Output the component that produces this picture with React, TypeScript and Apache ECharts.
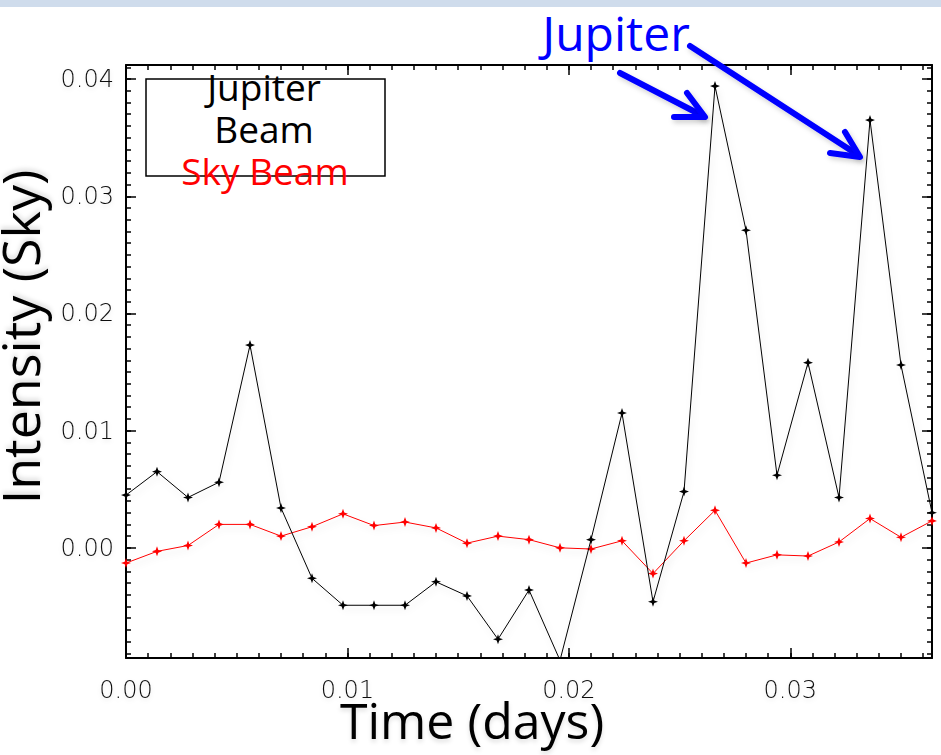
import React, { useEffect, useRef } from "react";
import * as echarts from "echarts";

// Sample times (days) and beam intensities
const times = [
  0.0, 0.0014, 0.0028, 0.0042, 0.0056, 0.007, 0.0084, 0.0098, 0.0112, 0.0126,
  0.014, 0.0154, 0.0168, 0.0182, 0.0196, 0.021, 0.0224, 0.0238, 0.0252, 0.0266,
  0.028, 0.0294, 0.0308, 0.0322, 0.0336, 0.035, 0.0364,
];

const jupiterBeam = [
  0.0045, 0.0065, 0.0043, 0.0056, 0.0173, 0.0034, -0.0026, -0.0049, -0.0049,
  -0.0049, -0.0029, -0.0041, -0.0078, -0.0036, -0.0096, 0.0007, 0.0115, -0.0046,
  0.0048, 0.0394, 0.0271, 0.0062, 0.0158, 0.0043, 0.0365, 0.0156, 0.003,
];

const skyBeam = [
  -0.0013, -0.0003, 0.0002, 0.002, 0.002, 0.001, 0.0018, 0.0029, 0.0019, 0.0022,
  0.0017, 0.0004, 0.001, 0.0007, 0.0, -0.0001, 0.0006, -0.0022, 0.0006, 0.0032,
  -0.0013, -0.0006, -0.0007, 0.0005, 0.0025, 0.0009, 0.0023,
];

const X_RANGE = [0, 0.0364];
const Y_RANGE = [-0.0094, 0.0412];
const MAJOR_X = 0.01;
const MINOR_X = 0.001;
const MAJOR_Y = 0.01;
const MINOR_Y = 0.001;

const LABEL_FONT = "'DejaVu Sans', sans-serif";
const TITLE_FONT = "'Open Sans', sans-serif";

const STAR = "path://M0,-10 L2.6,-2.6 L10,0 L2.6,2.6 L0,10 L-2.6,2.6 L-10,0 L-2.6,-2.6 Z";

const pair = (ys: number[]) => times.map((t, i) => [t, ys[i]]);

function axis(dim: "x" | "y", position: string, step: number, major: boolean, labels: boolean) {
  const range = dim === "x" ? X_RANGE : Y_RANGE;
  return {
    type: "value",
    position,
    min: range[0],
    max: range[1],
    minInterval: step,
    maxInterval: step,
    splitNumber: major ? 4 : 40,
    scale: true,
    splitLine: { show: false },
    axisLine: { show: major, onZero: false, lineStyle: { color: "#000", width: 2 } },
    axisTick: {
      show: true,
      inside: true,
      length: major ? 10 : 5,
      lineStyle: { color: "#000", width: 1.5 },
    },
    axisLabel: labels
      ? {
          show: true,
          fontFamily: LABEL_FONT,
          fontWeight: 200,
          fontSize: 24,
          color: "#111",
          margin: dim === "x" ? 20 : 12,
          showMinLabel: dim === "x",
          showMaxLabel: false,
          textShadowColor: "rgba(0,0,0,0.1)",
          textShadowBlur: 4,
          textShadowOffsetY: 2,
          formatter: (v: number) => v.toFixed(2),
        }
      : { show: false },
  };
}

function arrow(shaft: number[][], head: number[][]) {
  const style = {
    stroke: "#0000ff",
    lineWidth: 6,
    lineCap: "round",
    lineJoin: "round",
    fill: null,
    shadowBlur: 5,
    shadowColor: "rgba(0,0,0,0.18)",
    shadowOffsetX: 2,
    shadowOffsetY: 3,
  };
  return [
    { type: "polyline", shape: { points: shaft }, style, z: 100 },
    { type: "polyline", shape: { points: head }, style, z: 100 },
  ];
}

export default function App() {
  const ref = useRef<HTMLDivElement>(null);

  useEffect(() => {
    if (!ref.current) return;
    const chart = echarts.init(ref.current, undefined, { renderer: "svg" });
    const lineShadow = {
      shadowColor: "rgba(0,0,0,0.13)",
      shadowBlur: 6,
      shadowOffsetX: 2,
      shadowOffsetY: 4,
    };
    chart.setOption({
      animation: false,
      backgroundColor: "#fff",
      grid: { left: 126, right: 9, top: 65, bottom: 97 },
      xAxis: [
        axis("x", "bottom", MAJOR_X, true, true),
        axis("x", "bottom", MINOR_X, false, false),
        axis("x", "top", MAJOR_X, true, false),
        axis("x", "top", MINOR_X, false, false),
      ],
      yAxis: [
        axis("y", "left", MAJOR_Y, true, true),
        axis("y", "left", MINOR_Y, false, false),
        axis("y", "right", MAJOR_Y, true, false),
        axis("y", "right", MINOR_Y, false, false),
      ],
      series: [
        {
          name: "Jupiter Beam",
          type: "line",
          xAxisIndex: 0,
          yAxisIndex: 0,
          data: pair(jupiterBeam),
          symbol: STAR,
          symbolSize: 10,
          showAllSymbol: true,
          clip: true,
          itemStyle: { color: "#000" },
          lineStyle: { color: "#000", width: 1, ...lineShadow },
          z: 3,
        },
        {
          name: "Sky Beam",
          type: "line",
          xAxisIndex: 0,
          yAxisIndex: 0,
          data: pair(skyBeam),
          symbol: STAR,
          symbolSize: 10,
          showAllSymbol: true,
          clip: true,
          itemStyle: { color: "#ff0000" },
          lineStyle: { color: "#ff0000", width: 1, ...lineShadow },
          z: 2,
        },
      ],
      graphic: [
        // header band
        {
          type: "rect",
          shape: { x: 0, y: 0, width: 941, height: 7 },
          style: { fill: "#cfdcec" },
          z: 1,
        },
        // legend box
        {
          type: "rect",
          shape: { x: 146, y: 79, width: 239, height: 97 },
          style: { fill: "#fff", stroke: "#000", lineWidth: 1.5 },
          z: 50,
        },
        {
          type: "text",
          x: 264,
          y: 86,
          style: {
            text: "Jupiter",
            font: `37px ${TITLE_FONT}`,
            fill: "#000",
            align: "center",
            verticalAlign: "middle",
          },
          z: 51,
        },
        {
          type: "text",
          x: 264,
          y: 128,
          style: {
            text: "Beam",
            font: `37px ${TITLE_FONT}`,
            fill: "#000",
            align: "center",
            verticalAlign: "middle",
          },
          z: 51,
        },
        {
          type: "text",
          x: 265,
          y: 170,
          style: {
            text: "Sky Beam",
            font: `37px ${TITLE_FONT}`,
            fill: "#ff0000",
            align: "center",
            verticalAlign: "middle",
          },
          z: 51,
        },
        // annotation
        {
          type: "text",
          x: 616,
          y: 32,
          style: {
            text: "Jupiter",
            font: `48px ${TITLE_FONT}`,
            fill: "#0000ff",
            align: "center",
            verticalAlign: "middle",
          },
          z: 100,
        },
        ...arrow(
          [
            [620, 73],
            [703, 116],
          ],
          [
            [687, 93],
            [705, 117],
            [674, 117],
          ]
        ),
        ...arrow(
          [
            [690, 46],
            [858, 155],
          ],
          [
            [845, 132],
            [860, 157],
            [830, 153],
          ]
        ),
        // axis titles
        {
          type: "text",
          x: 472,
          y: 720,
          style: {
            text: "Time (days)",
            font: `50px ${TITLE_FONT}`,
            fill: "#000",
            align: "center",
            verticalAlign: "middle",
            textShadowColor: "rgba(0,0,0,0.12)",
            textShadowBlur: 4,
            textShadowOffsetY: 3,
          },
          z: 100,
        },
        {
          type: "text",
          x: 19,
          y: 337,
          rotation: Math.PI / 2,
          style: {
            text: "Intensity (Sky)",
            font: `52px ${TITLE_FONT}`,
            fill: "#000",
            align: "center",
            verticalAlign: "middle",
            textShadowColor: "rgba(0,0,0,0.12)",
            textShadowBlur: 4,
            textShadowOffsetX: 3,
          },
          z: 100,
        },
      ],
    });
    return () => chart.dispose();
  }, []);

  return (
    <div
      ref={ref}
      style={{ position: "absolute", left: 0, top: 0, width: 941, height: 755 }}
    />
  );
}
